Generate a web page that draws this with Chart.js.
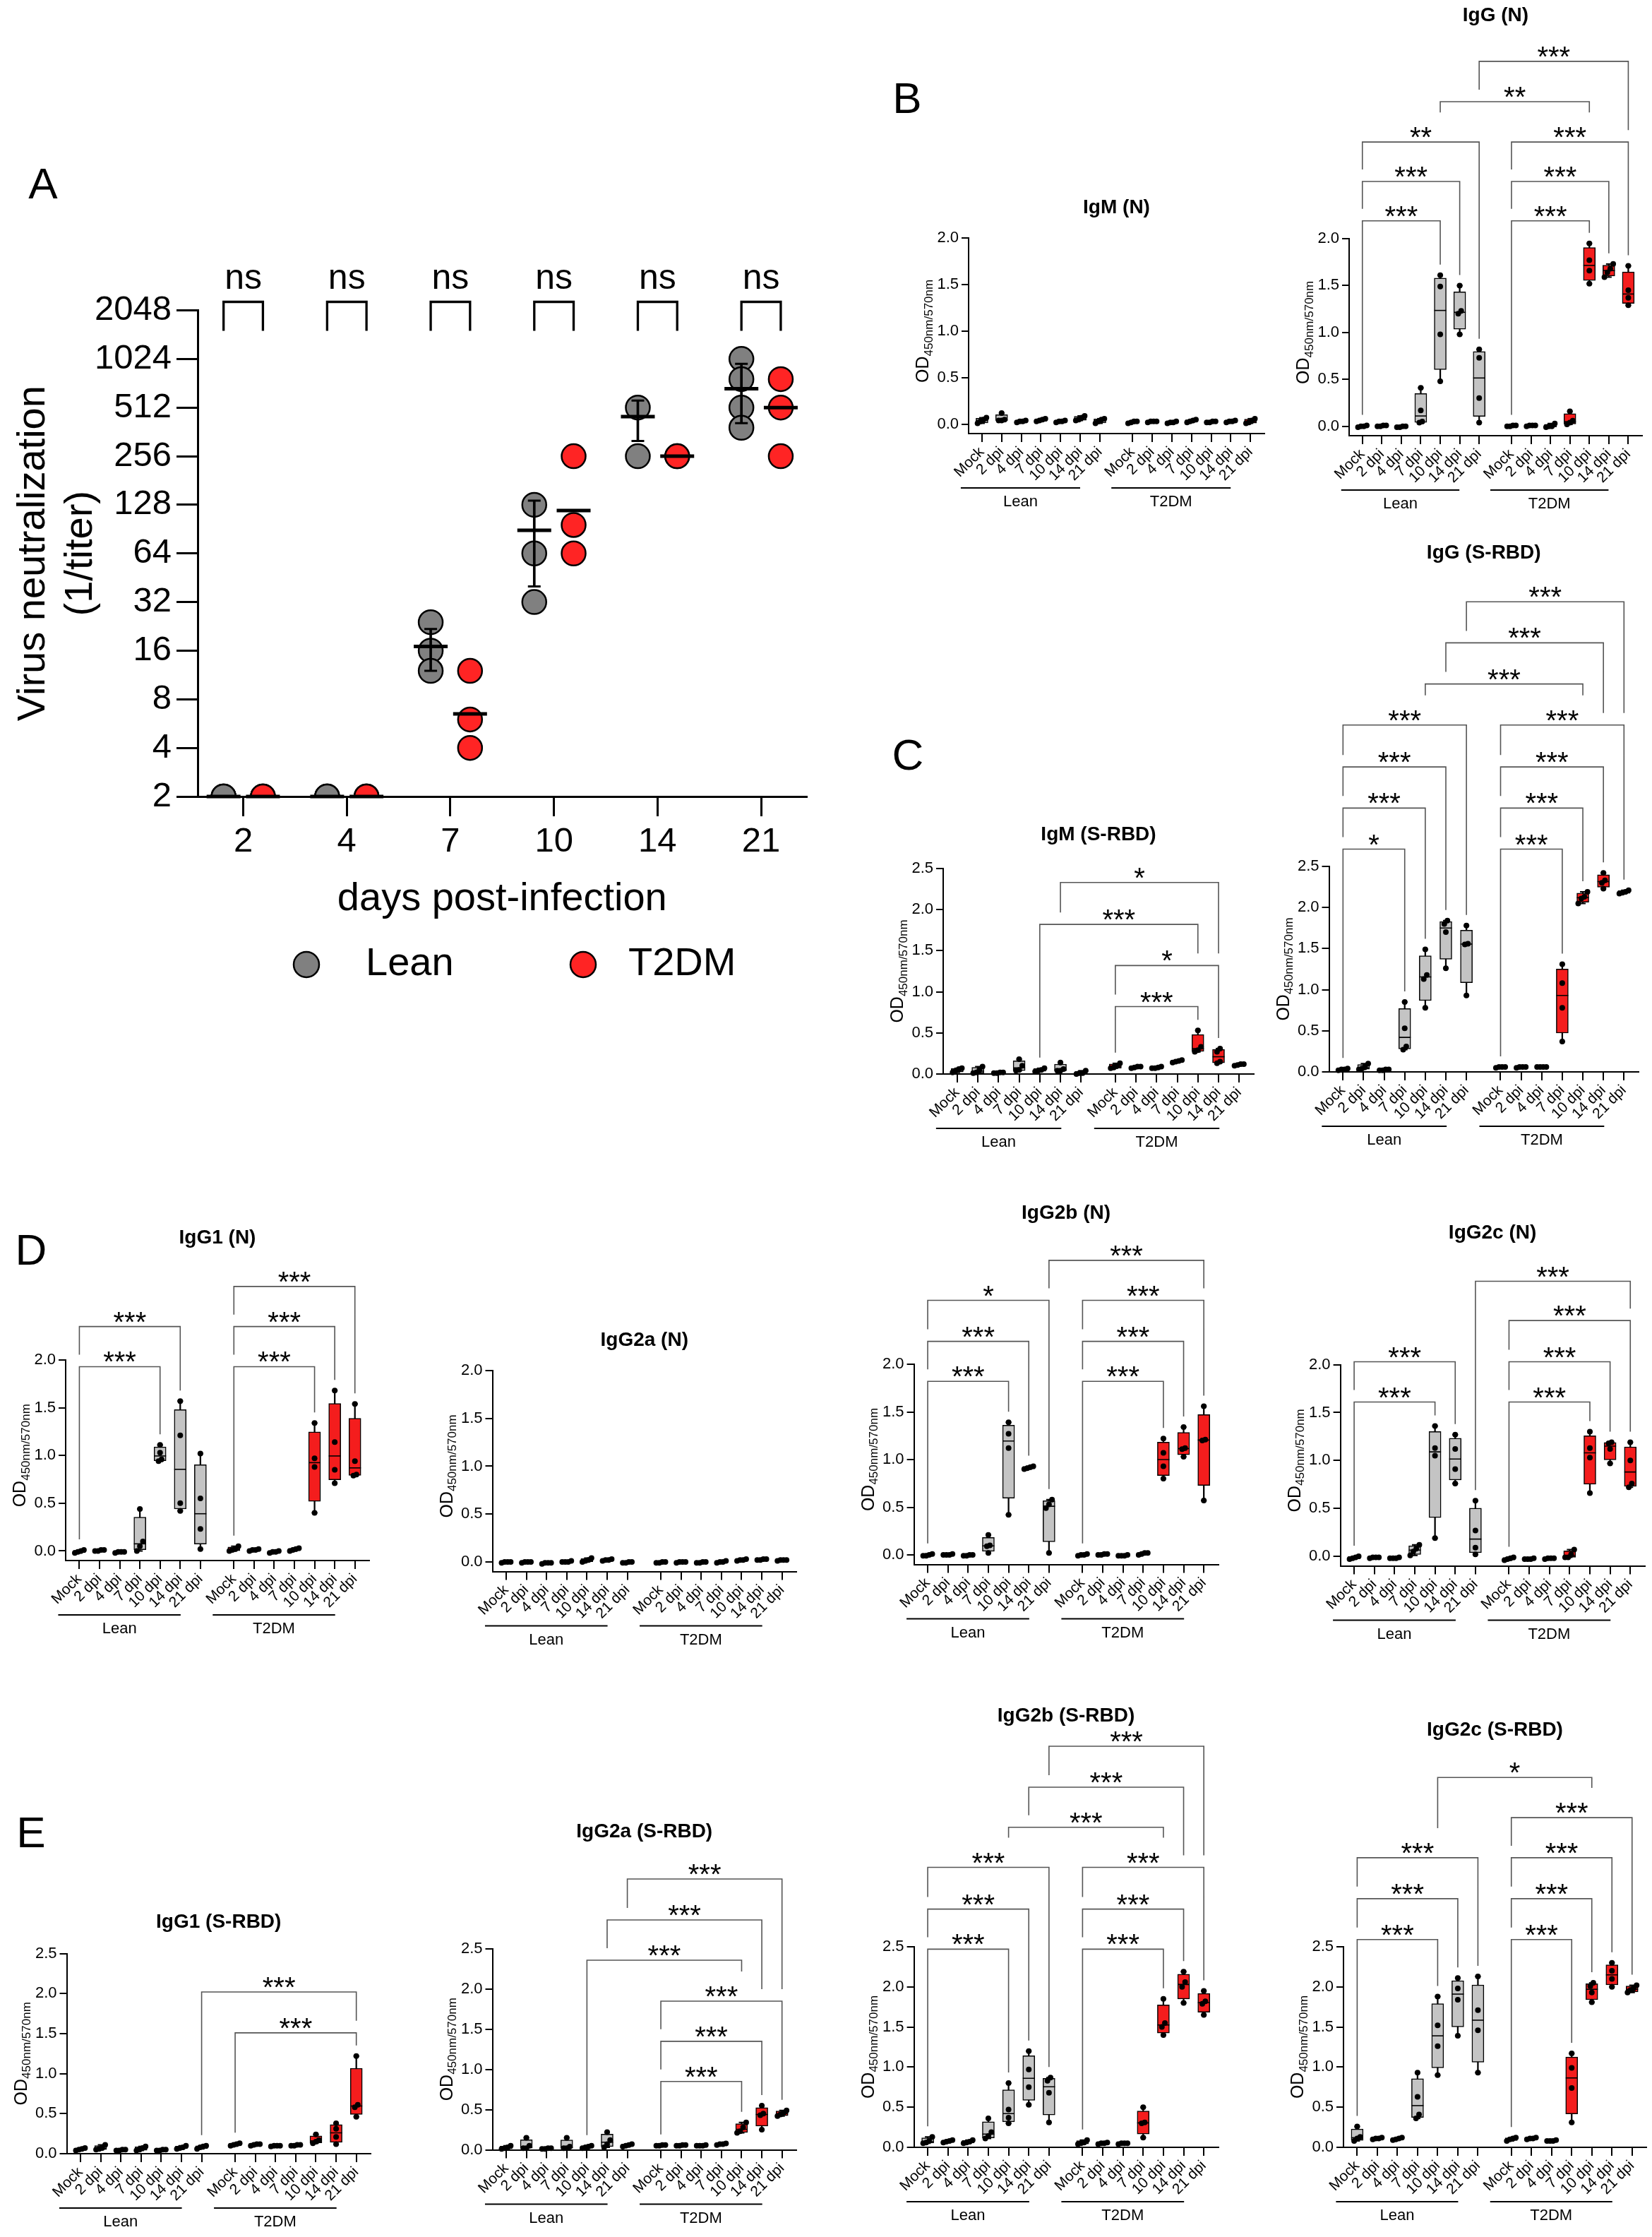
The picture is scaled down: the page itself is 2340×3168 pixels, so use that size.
<!DOCTYPE html>
<html>
<head>
<meta charset="utf-8">
<script src="https://cdn.jsdelivr.net/npm/chart.js@4.4.1/dist/chart.umd.min.js"></script>
<style>
  body { margin: 0; width: 2340px; height: 3168px; background: #fff; position: relative; overflow: hidden; }
  canvas { position: absolute; }
  .panel { position: absolute; width: 100px; text-align: center; font: 62px/62px "Liberation Sans", Arial, sans-serif; color: #000; }
</style>
</head>
<body>
<div class="panel" style="left:11px;top:229px">A</div>
<div class="panel" style="left:1235px;top:108px">B</div>
<div class="panel" style="left:1236px;top:1038px">C</div>
<div class="panel" style="left:-6px;top:1739px">D</div>
<div class="panel" style="left:-6px;top:2564px">E</div>
<script>
const FONT = '"Liberation Sans", Arial, Helvetica, sans-serif';
const GREY = '#c4c4c4', RED = '#f41d1d';

// ---------- panel A: neutralization titers ----------
const days = ['2', '4', '7', '10', '14', '21'];
const titerTicks = [2, 4, 8, 16, 32, 64, 128, 256, 512, 1024, 2048];
const leanTiter = [[2, 2, 2], [2, 2, 2], [24, 16, 12], [128, 64, 32], [512, 256], [1024, 768, 512, 384]];
const t2dmTiter = [[2, 2, 2], [2, 2, 2], [12, 6, 4], [256, 96, 64], [256, 256], [768, 512, 256]];
const leanMean = [2, 2, 17, 89, 450, 670];
const t2dmMean = [2, 2, 6.5, 118, 256, 512];
const leanErrLow = [null, null, 12, 40, 318, 410];
const leanErrHigh = [null, null, 21.8, 136, 566, 955];
const significance = ['ns', 'ns', 'ns', 'ns', 'ns', 'ns'];

// ---------- panels B-E: ELISA OD, 7 time points per cohort ----------
const timepoints = ['Mock', '2 dpi', '4 dpi', '7 dpi', '10 dpi', '14 dpi', '21 dpi'];
const cohorts = ['Lean', 'T2DM'];
const odTicksN = [0, 0.5, 1, 1.5, 2];
const odTicksS = [0, 0.5, 1, 1.5, 2, 2.5];

const igmN_lean = [[0.01, 0.03, 0.05, 0.07], [0.04, 0.04, 0.05, 0.12], [0.02, 0.03, 0.03, 0.04], [0.03, 0.04, 0.05, 0.06], [0.02, 0.03, 0.03, 0.04], [0.04, 0.05, 0.07, 0.09], [0.01, 0.03, 0.05, 0.06]];
const igmN_t2dm = [[0.01, 0.02, 0.03, 0.03], [0.02, 0.03, 0.03, 0.03], [0.01, 0.02, 0.02, 0.03], [0.02, 0.03, 0.04, 0.05], [0.02, 0.02, 0.03, 0.03], [0.02, 0.03, 0.03, 0.04], [0.01, 0.02, 0.04, 0.06]];

const iggN_lean = [[-0.01, 0, 0, 0.01], [0, 0, 0.01, 0.01], [-0.01, -0.01, 0, 0], [0.04, 0.05, 0.17, 0.41], [0.48, 0.98, 1.49, 1.61], [0.98, 1.20, 1.23, 1.50], [0.04, 0.30, 0.73, 0.82]];
const iggN_t2dm = [[0, 0, 0.01, 0.01], [0, 0.01, 0.01, 0.01], [-0.01, 0, 0, 0.03], [0.02, 0.04, 0.06, 0.16], [1.52, 1.66, 1.77, 1.95], [1.59, 1.64, 1.68, 1.73], [1.29, 1.37, 1.45, 1.71]];
const iggN_brackets = [[0, 4, '***', 2.19], [0, 5, '***', 2.61], [0, 6, '**', 3.03], [7, 11, '***', 2.19], [7, 12, '***', 2.61], [7, 13, '***', 3.03], [4, 11, '**', 3.46], [6, 13, '***', 3.89]];

const igmS_lean = [[0.02, 0.04, 0.06, 0.07], [0.01, 0.02, 0.05, 0.09], [0.01, 0.01, 0.02, 0.02], [0.04, 0.05, 0.10, 0.18], [0.03, 0.04, 0.05, 0.07], [0.04, 0.04, 0.06, 0.14], [0, 0.01, 0.01, 0.04]];
const igmS_t2dm = [[0.07, 0.08, 0.10, 0.13], [0.07, 0.08, 0.09, 0.09], [0.07, 0.07, 0.08, 0.09], [0.14, 0.15, 0.16, 0.17], [0.27, 0.29, 0.33, 0.53], [0.13, 0.15, 0.27, 0.31], [0.10, 0.11, 0.12, 0.12]];
const igmS_brackets = [[7, 11, '***', 0.82], [7, 12, '*', 1.32], [4, 11, '***', 1.82], [5, 12, '*', 2.33]];

const iggS_lean = [[0.02, 0.03, 0.03, 0.04], [0.03, 0.04, 0.06, 0.10], [0.02, 0.02, 0.03, 0.03], [0.27, 0.31, 0.53, 0.85], [0.78, 1.13, 1.18, 1.49], [1.26, 1.70, 1.80, 1.84], [0.93, 1.55, 1.56, 1.78]];
const iggS_t2dm = [[0.05, 0.06, 0.06, 0.06], [0.05, 0.06, 0.06, 0.06], [0.06, 0.06, 0.06, 0.06], [0.37, 0.78, 1.08, 1.31], [2.05, 2.11, 2.13, 2.19], [2.23, 2.30, 2.33, 2.42], [2.17, 2.18, 2.19, 2.21]];
const iggS_brackets = [[0, 3, '*', 2.71], [0, 4, '***', 3.21], [0, 5, '***', 3.71], [0, 6, '***', 4.22], [7, 10, '***', 2.71], [7, 11, '***', 3.21], [7, 12, '***', 3.71], [7, 13, '***', 4.22], [4, 11, '***', 4.72], [5, 12, '***', 5.22], [6, 13, '***', 5.72]];

const igg1N_lean = [[-0.02, -0.01, 0, 0.01], [0, 0, 0.01, 0.01], [-0.02, -0.01, -0.01, -0.01], [0, 0.05, 0.10, 0.44], [0.94, 0.96, 1.03, 1.11], [0.42, 0.50, 1.21, 1.57], [0.02, 0.23, 0.55, 1.02]];
const igg1N_t2dm = [[0, 0.01, 0.02, 0.05], [0, 0.01, 0.01, 0.02], [-0.02, -0.01, -0.01, 0], [0, 0.01, 0.02, 0.03], [0.40, 0.88, 0.97, 1.34], [0.71, 0.85, 1.14, 1.68], [0.79, 0.80, 0.94, 1.54]];
const igg1N_brackets = [[0, 4, '***', 1.93], [0, 5, '***', 2.35], [7, 11, '***', 1.93], [7, 12, '***', 2.35], [7, 13, '***', 2.77]];

const igg2aN_lean = [[-0.01, 0, 0, 0], [-0.01, 0, 0, 0], [-0.02, -0.01, -0.01, -0.01], [0, 0, 0, 0.01], [0, 0.01, 0.02, 0.04], [0.01, 0.02, 0.02, 0.03], [-0.01, -0.01, 0, 0]];
const igg2aN_t2dm = [[-0.01, -0.01, 0, 0], [-0.01, 0, 0, 0], [-0.01, -0.01, 0, 0], [-0.01, 0, 0, 0.01], [0.01, 0.02, 0.02, 0.03], [0.02, 0.02, 0.03, 0.03], [0.01, 0.02, 0.02, 0.02]];

const igg2bN_lean = [[-0.01, -0.01, 0, 0.01], [0, 0, 0, 0.01], [-0.01, -0.01, 0, 0], [0.02, 0.09, 0.10, 0.21], [0.42, 1.12, 1.27, 1.39], [0.90, 0.91, 0.92, 0.93], [0.02, 0.49, 0.53, 0.58]];
const igg2bN_t2dm = [[-0.01, 0, 0, 0.01], [0, 0, 0.01, 0.01], [-0.01, -0.01, -0.01, 0], [0, 0.01, 0.02, 0.02], [0.80, 0.93, 1.07, 1.22], [1.03, 1.11, 1.12, 1.34], [0.57, 1.20, 1.21, 1.56]];
const igg2bN_brackets = [[0, 4, '***', 1.82], [0, 5, '***', 2.24], [0, 6, '*', 2.67], [7, 11, '***', 1.82], [7, 12, '***', 2.24], [7, 13, '***', 2.67], [6, 13, '***', 3.09]];

const igg2cN_lean = [[-0.03, -0.02, -0.01, 0], [-0.02, -0.01, -0.01, -0.01], [-0.02, -0.02, -0.02, -0.01], [0.01, 0.05, 0.08, 0.12], [0.19, 1.05, 1.13, 1.36], [0.76, 0.91, 1.12, 1.27], [0.02, 0.09, 0.27, 0.58]];
const igg2cN_t2dm = [[-0.04, -0.03, -0.02, -0.01], [-0.03, -0.03, -0.03, -0.02], [-0.03, -0.02, -0.02, -0.02], [-0.01, -0.01, 0.02, 0.07], [0.66, 1.03, 1.13, 1.30], [0.97, 1.12, 1.18, 1.19], [0.72, 0.76, 1.00, 1.19]];
const igg2cN_brackets = [[0, 4, '***', 1.61], [0, 5, '***', 2.03], [7, 11, '***', 1.61], [7, 12, '***', 2.03], [7, 13, '***', 2.46], [6, 13, '***', 2.87]];

const igg1S_lean = [[0.04, 0.05, 0.06, 0.07], [0.05, 0.06, 0.07, 0.11], [0.04, 0.04, 0.05, 0.05], [0.04, 0.05, 0.07, 0.09], [0.04, 0.04, 0.05, 0.05], [0.06, 0.07, 0.08, 0.10], [0.06, 0.08, 0.09, 0.10]];
const igg1S_t2dm = [[0.10, 0.11, 0.12, 0.13], [0.10, 0.11, 0.12, 0.12], [0.09, 0.10, 0.10, 0.10], [0.10, 0.10, 0.11, 0.11], [0.13, 0.15, 0.17, 0.24], [0.12, 0.21, 0.31, 0.38], [0.46, 0.58, 0.61, 1.22]];
const igg1S_brackets = [[7, 13, '***', 1.51], [6, 13, '***', 2.02]];

const igg2aS_lean = [[0.01, 0.02, 0.03, 0.05], [0.02, 0.02, 0.05, 0.15], [0.01, 0.01, 0.02, 0.02], [0.02, 0.02, 0.04, 0.15], [0.02, 0.03, 0.04, 0.05], [0.03, 0.07, 0.12, 0.22], [0.04, 0.05, 0.06, 0.07]];
const igg2aS_t2dm = [[0.05, 0.05, 0.06, 0.06], [0.05, 0.05, 0.06, 0.06], [0.05, 0.05, 0.05, 0.06], [0.06, 0.07, 0.07, 0.08], [0.21, 0.23, 0.28, 0.34], [0.25, 0.43, 0.45, 0.55], [0.42, 0.44, 0.46, 0.49]];
const igg2aS_brackets = [[7, 11, '***', 0.85], [7, 12, '***', 1.35], [7, 13, '***', 1.85], [4, 11, '***', 2.36], [5, 12, '***', 2.86], [6, 13, '***', 3.37]];

const igg2bS_lean = [[0.05, 0.06, 0.08, 0.13], [0.06, 0.07, 0.08, 0.09], [0.05, 0.06, 0.07, 0.09], [0.11, 0.14, 0.19, 0.36], [0.30, 0.37, 0.47, 0.80], [0.53, 0.75, 0.97, 1.20], [0.31, 0.68, 0.83, 0.87]];
const igg2bS_t2dm = [[0.04, 0.05, 0.06, 0.09], [0.04, 0.05, 0.05, 0.06], [0.04, 0.05, 0.05, 0.05], [0.12, 0.30, 0.31, 0.50], [1.40, 1.50, 1.55, 1.85], [1.80, 2.00, 2.06, 2.19], [1.65, 1.79, 1.82, 1.95]];
const igg2bS_brackets = [[0, 4, '***', 2.47], [0, 5, '***', 2.97], [0, 6, '***', 3.49], [7, 11, '***', 2.47], [7, 12, '***', 2.97], [7, 13, '***', 3.49], [4, 11, '***', 3.99], [5, 12, '***', 4.49], [6, 13, '***', 5.0]];

const igg2cS_lean = [[0.08, 0.11, 0.13, 0.26], [0.10, 0.11, 0.11, 0.12], [0.09, 0.10, 0.11, 0.12], [0.36, 0.41, 0.63, 0.93], [0.90, 1.26, 1.52, 1.88], [1.39, 1.84, 1.98, 2.11], [0.93, 1.46, 1.71, 2.13]];
const igg2cS_t2dm = [[0.08, 0.10, 0.11, 0.12], [0.10, 0.11, 0.11, 0.12], [0.08, 0.08, 0.08, 0.09], [0.31, 0.74, 0.99, 1.17], [1.81, 1.93, 2.01, 2.05], [2.00, 2.10, 2.20, 2.30], [1.93, 1.96, 1.98, 2.02]];
const igg2cS_brackets = [[0, 4, '***', 2.59], [0, 5, '***', 3.10], [0, 6, '***', 3.61], [7, 10, '***', 2.59], [7, 11, '***', 3.10], [7, 12, '***', 3.61], [7, 13, '***', 4.11], [4, 11, '*', 4.61]];

// ---------- helpers ----------
const xPos = i => (i < 7 ? i : i + 0.66);   // gap between the two cohorts

function makeCanvas(left, top, w, h) {
  const c = document.createElement('canvas');
  c.width = w; c.height = h;
  c.style.left = left + 'px'; c.style.top = top + 'px';
  c.style.width = w + 'px'; c.style.height = h + 'px';
  document.body.appendChild(c);
  return c;
}

// quartiles the way Prism does it: position (n+1)p
function boxStats(vals) {
  const s = [...vals].sort((a, b) => a - b), n = s.length;
  const at = p => {
    const r = Math.min(Math.max((n + 1) * p, 1), n) - 1;
    const lo = Math.floor(r), hi = Math.ceil(r);
    return s[lo] + (s[hi] - s[lo]) * (r - lo);
  };
  return { min: s[0], q1: at(0.25), med: at(0.5), q3: at(0.75), max: s[n - 1] };
}

// spread overlapping points sideways
function jitter(vals, thr) {
  const s = vals.map((v, i) => ({ v, i })).sort((a, b) => a.v - b.v);
  const off = new Array(vals.length).fill(0);
  let start = 0;
  for (let k = 1; k <= s.length; k++) {
    if (k === s.length || s[k].v - s[k - 1].v > thr) {
      const c = k - start;
      for (let m = 0; m < c; m++) off[s[start + m].i] = (m - (c - 1) / 2) * 0.15;
      start = k;
    }
  }
  return off;
}

const annot = {
  id: 'annot',
  afterDraw(chart, args, o) {
    const { ctx, chartArea: a, scales: { x, y } } = chart;
    ctx.save();
    ctx.fillStyle = '#000';

    // title
    ctx.font = `bold 28px ${FONT}`;
    ctx.textAlign = 'center';
    ctx.textBaseline = 'middle';
    ctx.fillText(o.title, (a.left + a.right) / 2, o.titleY);

    // y axis title with subscript
    const yc = (y.getPixelForValue(0) + y.getPixelForValue(o.yTop)) / 2;
    ctx.save();
    ctx.translate(a.left - 66, yc);
    ctx.rotate(-Math.PI / 2);
    ctx.font = `25px ${FONT}`;
    const w1 = ctx.measureText('OD').width;
    ctx.font = `17px ${FONT}`;
    const w2 = ctx.measureText('450nm/570nm').width;
    const sx = -(w1 + w2) / 2;
    ctx.textAlign = 'left';
    ctx.textBaseline = 'alphabetic';
    ctx.font = `25px ${FONT}`;
    ctx.fillText('OD', sx, 9);
    ctx.font = `17px ${FONT}`;
    ctx.fillText('450nm/570nm', sx + w1, 14.5);
    ctx.restore();

    // cohort underlines and names
    ctx.strokeStyle = '#000';
    ctx.lineWidth = 2;
    ctx.font = `22px ${FONT}`;
    ctx.textAlign = 'center';
    ctx.textBaseline = 'middle';
    cohorts.forEach((name, c) => {
      const x1 = x.getPixelForValue(xPos(c * 7)) - 30;
      const x2 = x.getPixelForValue(xPos(c * 7 + 6)) - 28;
      ctx.beginPath();
      ctx.moveTo(x1, a.bottom + 77);
      ctx.lineTo(x2, a.bottom + 77);
      ctx.stroke();
      ctx.fillText(name, (x1 + x2) / 2, a.bottom + 97);
    });

    // significance brackets
    ctx.font = `40px ${FONT}`;
    const bs = o.brackets.map(([i, j, lab, lvl]) => ({
      i, j, lab,
      yb: y.getPixelForValue(lvl),
      x1: x.getPixelForValue(xPos(i)),
      x2: x.getPixelForValue(xPos(j)),
      w: ctx.measureText(lab).width
    }));
    const legEnd = (b, k, px) => {
      let end = y.getPixelForValue(o.tops[k]) - 15;
      bs.forEach(c => {
        if (c === b || c.yb <= b.yb) return;
        if (px >= c.x1 - 1 && px <= c.x2 + 1) end = Math.min(end, c.yb - 17);
        if (Math.abs(px - (c.x1 + c.x2) / 2) < c.w / 2 + 15) end = Math.min(end, c.yb - 42);
      });
      return end;
    };
    ctx.strokeStyle = '#555';
    ctx.lineWidth = 1.6;
    ctx.textBaseline = 'alphabetic';
    bs.forEach(b => {
      ctx.beginPath();
      ctx.moveTo(b.x1, legEnd(b, b.i, b.x1));
      ctx.lineTo(b.x1, b.yb);
      ctx.lineTo(b.x2, b.yb);
      ctx.lineTo(b.x2, legEnd(b, b.j, b.x2));
      ctx.stroke();
      ctx.fillText(b.lab, (b.x1 + b.x2) / 2, b.yb + 7);
    });
    ctx.restore();
  }
};

function boxChart(spec) {
  const [axisX, axisRight, yTopPx, axisY, titleY] = spec.at;
  const left = Math.round(axisX - 110), top = Math.round(titleY - 30);
  const w = Math.round(axisRight + 14) - left, h = Math.round(axisY + 125) - top;
  const canvas = makeCanvas(left, top, w, h);

  const groups = spec.lean.concat(spec.t2dm);
  const yMax = spec.ticks[spec.ticks.length - 1];
  const thr = 0.025 * (yMax - spec.yMin);
  const pts = [], boxes = [], whisk = [], meds = [], caps = [];
  groups.forEach((g, i) => {
    const xv = xPos(i), st = boxStats(g), off = jitter(g, thr);
    g.forEach((v, k) => pts.push({ x: xv + off[k], y: v }));
    boxes.push({ x: xv, y: [st.q1, st.q3] });
    whisk.push({ x: xv, y: [st.min, st.max] });
    meds.push({ x: xv, y: st.med });
    caps.push({ x: xv, y: st.min }, { x: xv, y: st.max });
  });
  const tickPos = groups.map((_, i) => xPos(i));
  const tickText = timepoints.concat(timepoints);

  new Chart(canvas, {
    type: 'scatter',
    data: {
      datasets: [
        { type: 'bar', data: whisk, backgroundColor: '#000', barThickness: 1.6, grouped: false, order: 5 },
        { type: 'bar', data: boxes, backgroundColor: groups.map((_, i) => (i < 7 ? GREY : RED)),
          borderColor: '#000', borderWidth: 1.5, borderSkipped: false, barThickness: 17, grouped: false, order: 4 },
        { data: meds, pointStyle: 'line', pointRadius: 8.5, borderColor: '#000', borderWidth: 1.6, order: 3 },
        { data: caps, pointStyle: 'line', pointRadius: 4, borderColor: '#000', borderWidth: 2, order: 3 },
        { data: pts, pointRadius: 4, backgroundColor: '#000', borderWidth: 0, order: 1, clip: 10 }
      ]
    },
    options: {
      responsive: false, animation: false, devicePixelRatio: 1, events: [],
      layout: { autoPadding: false, padding: { left: 0, top: yTopPx - top, right: left + w - axisRight, bottom: 0 } },
      plugins: {
        legend: { display: false }, tooltip: { enabled: false },
        annot: { title: spec.title, titleY: titleY - top, brackets: spec.brackets || [], tops: groups.map(g => Math.max(...g)), yTop: yMax }
      },
      scales: {
        x: {
          type: 'linear', min: -0.68, max: 14.37, offset: false, bounds: 'data',
          afterBuildTicks: s => { s.ticks = tickPos.map(v => ({ value: v })); },
          afterFit: s => { s.height = top + h - axisY; },
          ticks: { autoSkip: false, minRotation: 45, maxRotation: 45, padding: 2, color: '#000',
                   font: { family: FONT, size: 21 }, callback: (v, i) => tickText[i] },
          grid: { display: true, offset: false, drawOnChartArea: false, drawTicks: true, tickLength: 12, color: '#000', lineWidth: 2 },
          border: { display: true, color: '#000', width: 2 }
        },
        y: {
          type: 'linear', min: spec.yMin, max: yMax, bounds: 'data',
          afterBuildTicks: s => { s.ticks = spec.ticks.map(v => ({ value: v })); },
          afterFit: s => { s.width = axisX - left; },
          ticks: { padding: 4, color: '#000', font: { family: FONT, size: 22 }, callback: v => v.toFixed(1) },
          grid: { display: true, offset: false, drawOnChartArea: false, drawTicks: true, tickLength: 10, color: '#000', lineWidth: 2 },
          border: { display: true, color: '#000', width: 2 }
        }
      }
    },
    plugins: [annot]
  });
}

// ---------- panel A chart ----------
const panelA = {
  id: 'panelA',
  afterDraw(chart) {
    const { ctx, chartArea: a, scales: { x } } = chart;
    ctx.save();
    ctx.fillStyle = '#000';
    ctx.strokeStyle = '#000';
    ctx.lineWidth = 3.3;
    ctx.font = `50px ${FONT}`;
    ctx.textAlign = 'center';
    ctx.textBaseline = 'alphabetic';
    days.forEach((d, i) => {
      const x1 = x.getPixelForValue(i - 0.19), x2 = x.getPixelForValue(i + 0.19);
      ctx.beginPath();
      ctx.moveTo(x1, a.top + 29);
      ctx.lineTo(x1, a.top - 12);
      ctx.lineTo(x2, a.top - 12);
      ctx.lineTo(x2, a.top + 29);
      ctx.stroke();
      ctx.fillText(significance[i], (x1 + x2) / 2, a.top - 31);
    });
    // axis titles
    ctx.font = `56px ${FONT}`;
    ctx.textBaseline = 'middle';
    ctx.fillText('days post-infection', (a.left + a.right) / 2, a.bottom + 146);
    ctx.save();
    ctx.translate(a.left - 217, (a.top + a.bottom) / 2);
    ctx.rotate(-Math.PI / 2);
    ctx.textBaseline = 'alphabetic';
    ctx.fillText('Virus neutralization', 0, 0);
    ctx.fillText('(1/titer)', 0, 67);
    ctx.restore();
    // legend
    const ly = a.bottom + 238;
    [[434, 518, '#808080', cohorts[0]], [826, 890, '#ff2424', cohorts[1]]].forEach(([cx, tx, col, name]) => {
      ctx.beginPath();
      ctx.arc(cx, ly, 18, 0, Math.PI * 2);
      ctx.fillStyle = col;
      ctx.fill();
      ctx.lineWidth = 2.5;
      ctx.stroke();
      ctx.fillStyle = '#000';
      ctx.textAlign = 'left';
      ctx.fillText(name, tx, ly);
    });
    ctx.restore();
  }
};

(function () {
  const left = 0, top = 330, w = 1160, h = 1100;
  const ca = { left: 280, top: 439.5, right: 1142.6, bottom: 1128 };
  const canvas = makeCanvas(left, top, w, h);
  const pts = (sets, dx) => sets.flatMap((g, i) => g.map(v => ({ x: i + dx, y: v })));
  const errs = [], capsA = [];
  leanErrLow.forEach((lo, i) => {
    if (lo === null) return;
    errs.push({ x: i - 0.19, y: [lo, leanErrHigh[i]] });
    capsA.push({ x: i - 0.19, y: lo }, { x: i - 0.19, y: leanErrHigh[i] });
  });
  new Chart(canvas, {
    type: 'scatter',
    data: {
      datasets: [
        { data: pts(leanTiter, -0.19), pointRadius: 17, backgroundColor: '#808080', borderColor: '#000', borderWidth: 2.5, order: 5 },
        { data: pts(t2dmTiter, 0.19), pointRadius: 17, backgroundColor: '#ff2424', borderColor: '#000', borderWidth: 2.5, order: 5 },
        { type: 'bar', data: errs, backgroundColor: '#000', barThickness: 3, grouped: false, order: 2 },
        { data: capsA, pointStyle: 'line', pointRadius: 9, borderColor: '#000', borderWidth: 3, order: 2 },
        { data: leanMean.map((v, i) => ({ x: i - 0.19, y: v })), pointStyle: 'line', pointRadius: 24, borderColor: '#000', borderWidth: 5, order: 1, clip: false },
        { data: t2dmMean.map((v, i) => ({ x: i + 0.19, y: v })), pointStyle: 'line', pointRadius: 24, borderColor: '#000', borderWidth: 5, order: 1, clip: false }
      ]
    },
    options: {
      responsive: false, animation: false, devicePixelRatio: 1, events: [],
      layout: { autoPadding: false, padding: { left: 0, top: ca.top - top, right: w - ca.right, bottom: 0 } },
      plugins: { legend: { display: false }, tooltip: { enabled: false } },
      scales: {
        x: {
          type: 'linear', min: -0.44, max: 5.44, offset: false, bounds: 'data',
          afterBuildTicks: s => { s.ticks = days.map((d, i) => ({ value: i })); },
          afterFit: s => { s.height = top + h - ca.bottom; },
          ticks: { autoSkip: false, maxRotation: 0, padding: 7, color: '#000', font: { family: FONT, size: 49 }, callback: (v, i) => days[i] },
          grid: { display: true, offset: false, drawOnChartArea: false, drawTicks: true, tickLength: 28, color: '#000', lineWidth: 3 },
          border: { display: true, color: '#000', width: 3 }
        },
        y: {
          type: 'logarithmic', min: 2, max: 2048, bounds: 'data',
          afterBuildTicks: s => { s.ticks = titerTicks.map(v => ({ value: v })); },
          afterFit: s => { s.width = ca.left - left; },
          ticks: { padding: 7, color: '#000', font: { family: FONT, size: 49 }, callback: v => String(v) },
          grid: { display: true, offset: false, drawOnChartArea: false, drawTicks: true, tickLength: 30, color: '#000', lineWidth: 3 },
          border: { display: true, color: '#000', width: 3 }
        }
      }
    },
    plugins: [panelA]
  });
})();

// ---------- panels B-E ----------
// at: [y-axis x, x-axis right end, pixel of top tick, x-axis y, title centre y]
boxChart({ title: 'IgM (N)', lean: igmN_lean, t2dm: igmN_t2dm, ticks: odTicksN, yMin: -0.1, at: [1372, 1791, 337, 614, 294] });
boxChart({ title: 'IgG (N)', lean: iggN_lean, t2dm: iggN_t2dm, brackets: iggN_brackets, ticks: odTicksN, yMin: -0.1, at: [1911, 2326, 338, 617, 22] });
boxChart({ title: 'IgM (S-RBD)', lean: igmS_lean, t2dm: igmS_t2dm, brackets: igmS_brackets, ticks: odTicksS, yMin: 0, at: [1336, 1776, 1230, 1521, 1182] });
boxChart({ title: 'IgG (S-RBD)', lean: iggS_lean, t2dm: iggS_t2dm, brackets: iggS_brackets, ticks: odTicksS, yMin: 0, at: [1882.5, 2321, 1227, 1518, 783] });
boxChart({ title: 'IgG1 (N)', lean: igg1N_lean, t2dm: igg1N_t2dm, brackets: igg1N_brackets, ticks: odTicksN, yMin: -0.1, at: [93, 523, 1926, 2210, 1753] });
boxChart({ title: 'IgG2a (N)', lean: igg2aN_lean, t2dm: igg2aN_t2dm, ticks: odTicksN, yMin: -0.1, at: [697.5, 1128, 1941, 2225.5, 1898] });
boxChart({ title: 'IgG2b (N)', lean: igg2bN_lean, t2dm: igg2bN_t2dm, brackets: igg2bN_brackets, ticks: odTicksN, yMin: -0.1, at: [1294.6, 1725.5, 1932, 2215.5, 1718] });
boxChart({ title: 'IgG2c (N)', lean: igg2cN_lean, t2dm: igg2cN_t2dm, brackets: igg2cN_brackets, ticks: odTicksN, yMin: -0.1, at: [1898.6, 2329.6, 1932.6, 2217.6, 1746.5] });
boxChart({ title: 'IgG1 (S-RBD)', lean: igg1S_lean, t2dm: igg1S_t2dm, brackets: igg1S_brackets, ticks: odTicksS, yMin: 0, at: [94.5, 525, 2766.6, 3050, 2722] });
boxChart({ title: 'IgG2a (S-RBD)', lean: igg2aS_lean, t2dm: igg2aS_t2dm, brackets: igg2aS_brackets, ticks: odTicksS, yMin: 0, at: [697.5, 1128, 2760, 3044.5, 2594] });
boxChart({ title: 'IgG2b (S-RBD)', lean: igg2bS_lean, t2dm: igg2bS_t2dm, brackets: igg2bS_brackets, ticks: odTicksS, yMin: 0, at: [1294.6, 1725.5, 2757, 3041, 2430] });
boxChart({ title: 'IgG2c (S-RBD)', lean: igg2cS_lean, t2dm: igg2cS_t2dm, brackets: igg2cS_brackets, ticks: odTicksS, yMin: 0, at: [1903, 2332, 2757, 3041, 2450] });
</script>
</body>
</html>
